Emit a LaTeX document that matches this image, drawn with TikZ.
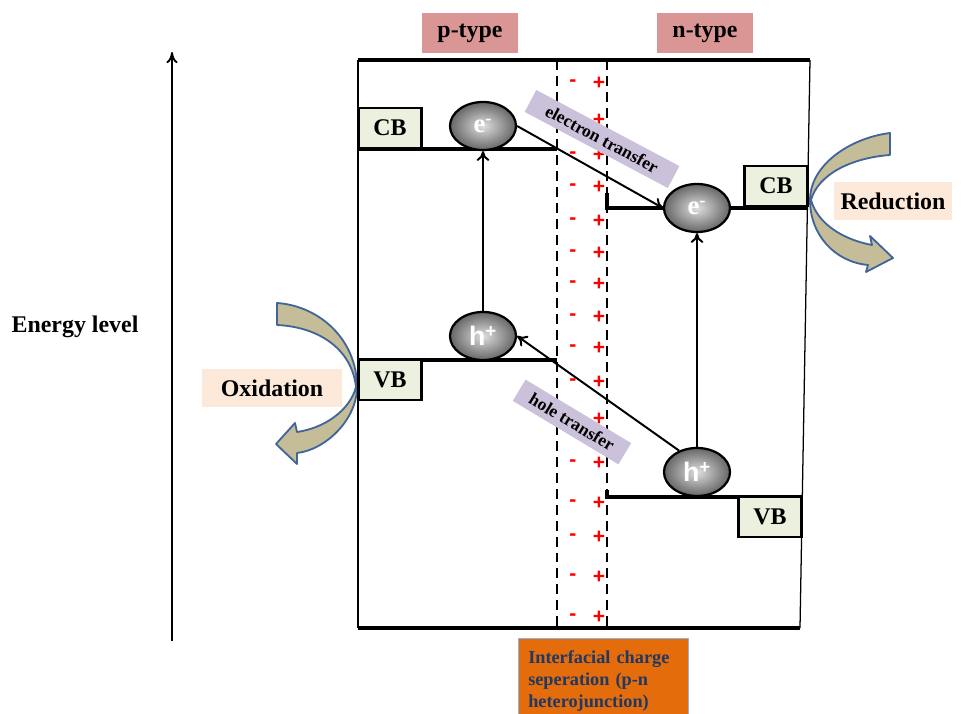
\documentclass[tikz,border=0pt]{standalone}
\usepackage{fontspec}
\setmainfont{Liberation Serif}
\newfontfamily\arialfont{Liberation Sans}
\usetikzlibrary{shapes.geometric,arrows.meta}
\definecolor{bandgreen}{HTML}{EBF1DE}
\definecolor{typered}{HTML}{D99694}
\definecolor{lilac}{HTML}{CCC1DA}
\definecolor{peach}{HTML}{FDE9D9}
\definecolor{tanfill}{HTML}{C4BD97}
\definecolor{edgeblue}{HTML}{41659A}
\definecolor{junctionorange}{HTML}{E46C0A}
\definecolor{navytext}{HTML}{1F3864}
\definecolor{paleblue}{HTML}{8EB4E3}
\tikzset{
  band/.style={line width=2.4pt},
  junctionline/.style={line width=1.8pt,dash pattern=on 7pt off 4.3pt},
  bigfont/.style={font=\fontsize{17}{20}\selectfont\bfseries},
  bandbox/.style={bigfont,draw,line width=1.5pt,fill=bandgreen,minimum width=1.575cm,minimum height=0.98cm},
  typebox/.style={bigfont,fill=typered,minimum width=2.4cm,minimum height=1cm},
  redoxbox/.style={bigfont,fill=peach,minimum height=0.95cm},
  carrier/.style={ellipse,draw,line width=1.6pt,minimum width=1.65cm,minimum height=1.2cm,inner sep=0pt,
    shading=radial,inner color=gray!25,outer color=gray!80!black,text=white,font=\fontsize{19}{20}\selectfont\bfseries},
  transfer/.style={fill=lilac,minimum height=0.62cm,font=\fontsize{12.5}{14}\selectfont\bfseries},
  charge/.style={text=red,font=\arialfont\fontsize{15}{16}\selectfont\bfseries,inner sep=1pt},
  excite/.style={-{To[length=7pt,width=9pt]},line width=1.4pt},
  redoxarrow/.style={fill=tanfill,draw=edgeblue,line width=1.3pt,line join=round},
}
\begin{document}
\begin{tikzpicture}[x=0.025cm,y=-0.025cm]
\useasboundingbox (0,0) rectangle (963,714);
\coordinate (elow) at (172,641);
\coordinate (ehigh) at (172,52);
\draw[-{To[length=8pt,width=8pt]},line width=1.3pt] (elow) -- (ehigh);
\node[bigfont] (elevel) at (75,327) {Energy level};
\node[typebox] (ptype) at (470,33) {p-type};
\node[typebox] (ntype) at (705,33) {n-type};
\draw[band] (358,60) -- (810,60);
\draw[band] (358,628) -- (800,628);
\draw[line width=0.9pt] (358,60) -- (358,628);
\draw[line width=0.9pt] (810,60) -- (800,628);
\draw[junctionline] (557,60) -- (557,628);
\draw[junctionline] (607,60) -- (607,628);
\foreach \y [count=\i] in {83,155,187,221,253,284,317,348,382,463,503,537,577,617}
  \node[charge] (mi\i) at (573,\y) {-};
\foreach \y [count=\i] in {83,120,155,187,221,253,284,317,348,382,419,463,503,537,577,617}
  \node[charge] (pl\i) at (599,\y) {+};
\draw[band] (358,149) -- (557,149);
\draw[band] (358,360) -- (557,360);
\draw[band] (607,193) -- (607,208) -- (808,208);
\draw[band] (607,490) -- (607,497) -- (803,497);
\draw[redoxarrow] (277,303) .. controls (320,306) and (357,340) .. (357,387)
  .. controls (357,420) and (325,450) .. (297,453) -- (297,464) -- (276,444) -- (295,423) -- (297,432)
  .. controls (325,428) and (350,410) .. (356,387)
  .. controls (352,350) and (320,327) .. (277,325) -- cycle;
\draw[redoxarrow] (890,133) .. controls (850,138) and (810,165) .. (810,200)
  .. controls (810,235) and (835,262) .. (868,265) -- (866,272) -- (893,258) -- (870,236) -- (872,245)
  .. controls (845,240) and (818,225) .. (811,200)
  .. controls (818,175) and (850,158) .. (890,155) -- cycle;
\node[redoxbox,minimum width=3.475cm] (oxi) at (272,388) {Oxidation};
\node[redoxbox,minimum width=2.925cm] (redu) at (893,201) {Reduction};
\node[bandbox] (cbp) at (390,128) {CB};
\node[bandbox] (vbp) at (390,380) {VB};
\node[bandbox] (cbn) at (776,186) {CB};
\node[bandbox] (vbn) at (770,517) {VB};
\node[carrier] (ep) at (483,126) {e\textsuperscript{-}};
\node[carrier] (hp) at (483,336) {\arialfont h\textsuperscript{+}};
\node[carrier] (en) at (697,208) {e\textsuperscript{-}};
\node[carrier] (hn) at (697,472) {\arialfont h\textsuperscript{+}};
\draw[excite] (hp) -- (ep);
\draw[excite] (hn) -- (en);
\draw[excite] (ep.east) -- (en.west);
\draw[excite] (hn.130) -- (hp.east);
\node[transfer,rotate=-28,minimum width=4.05cm] (etrans) at (602,139) {electron transfer};
\node[transfer,rotate=-31,minimum width=3.08cm] (htrans) at (572,422) {hole transfer};
\node[anchor=north west,fill=junctionorange,draw=paleblue,line width=0.6pt,text=navytext,align=left,
  text width=107pt,inner xsep=7pt,inner ysep=8.7pt,font=\fontsize{13}{15.6}\selectfont\bfseries]
  (iface) at (518,638) {Interfacial charge\\seperation (p-n\\heterojunction)};
\end{tikzpicture}
\end{document}
